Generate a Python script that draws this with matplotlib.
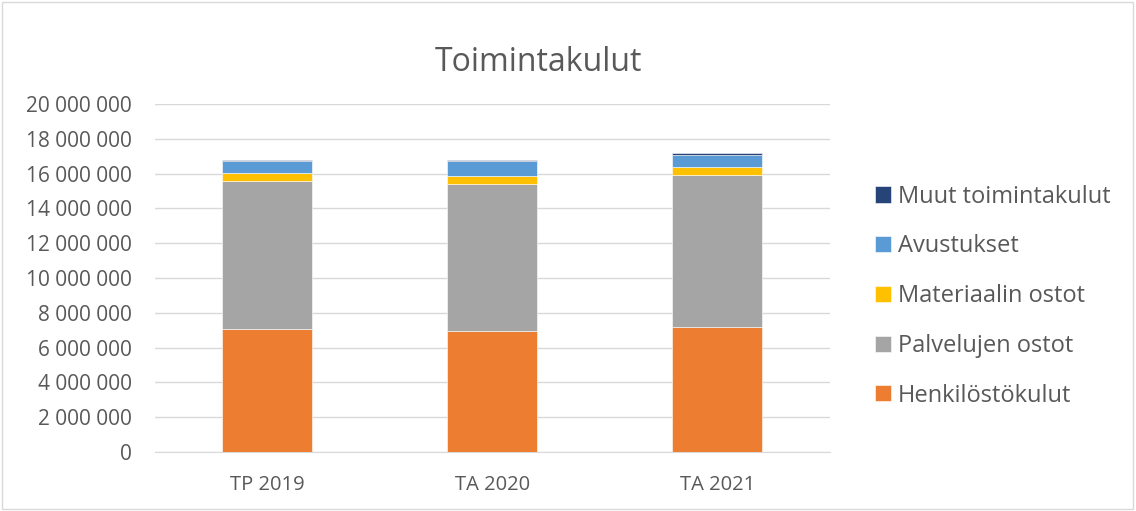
import matplotlib.pyplot as plt
from matplotlib.patches import Rectangle
from matplotlib.ticker import FuncFormatter

plt.rcParams["font.family"] = ["Open Sans", "DejaVu Sans"]

categories = ["TP 2019", "TA 2020", "TA 2021"]
henkilosto = [7070000, 6940000, 7170000]
palvelut = [8480000, 8440000, 8770000]
materiaali = [480000, 480000, 460000]
avustukset = [720000, 890000, 670000]
muut = [30000, 30000, 100000]

series = [
    ("Henkilöstökulut", henkilosto, "#ed7d31"),
    ("Palvelujen ostot", palvelut, "#a5a5a5"),
    ("Materiaalin ostot", materiaali, "#ffc000"),
    ("Avustukset", avustukset, "#5b9bd5"),
    ("Muut toimintakulut", muut, "#264478"),
]

fig = plt.figure(figsize=(11.36, 5.11), dpi=100)
ax = fig.add_axes([0.1364, 0.1155, 0.5942, 0.681])

x = range(len(categories))
bottom = [0] * len(categories)
handles = []
for name, vals, color in series:
    b = ax.bar(x, vals, width=0.4, bottom=bottom, color=color, label=name,
               edgecolor="white", linewidth=0.4, zorder=3)
    handles.append(b)
    bottom = [p + v for p, v in zip(bottom, vals)]

ax.set_xlim(-0.5, 2.5)
ax.set_ylim(0, 20000000)
ax.set_yticks(range(0, 20000001, 2000000))
ax.yaxis.set_major_formatter(FuncFormatter(lambda v, p: f"{int(v):,}".replace(",", " ")))
ax.set_xticks(list(x))
ax.set_xticklabels(categories)
ax.tick_params(axis="y", length=0, labelsize=15, colors="#595959", pad=16.5)
ax.tick_params(axis="x", length=0, labelsize=14.5, colors="#595959", pad=16.5)
ax.grid(axis="y", color="#d9d9d9", linewidth=1, zorder=0)
for s in ["top", "right", "left"]:
    ax.spines[s].set_visible(False)
ax.spines["bottom"].set_color("#d9d9d9")

fig.text(0.474, 0.877, "Toimintakulut", ha="center", va="center",
         fontsize=23, color="#595959")

fig.legend(handles[::-1], [s[0] for s in series][::-1], loc="upper left",
           bbox_to_anchor=(0.762, 0.657), frameon=False, fontsize=17,
           labelcolor="#595959", labelspacing=1.09, handlelength=0.68,
           handleheight=0.68, handletextpad=0.3, borderaxespad=0)

fig.add_artist(Rectangle((0.002, 0.003), 0.995, 0.994, transform=fig.transFigure,
                         fill=False, edgecolor="#d9d9d9", linewidth=1))

fig.savefig("out.png", dpi=100)
